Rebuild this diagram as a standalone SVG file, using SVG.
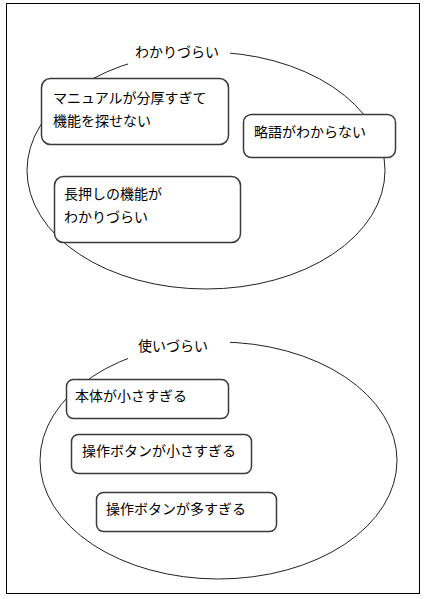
<svg xmlns="http://www.w3.org/2000/svg" width="426" height="599" viewBox="0 0 426 599">
<style>
.t{font-family:"Noto Sans CJK JP","Noto Sans CJK SC",sans-serif;font-size:14px;fill:#000}
.box{fill:#fff;stroke:#3a3a3a;stroke-width:1.5}
.grp{fill:none;stroke:#222;stroke-width:1}
.mask{fill:#fff;stroke:none}
</style>
<rect x="0" y="0" width="426" height="599" fill="#fff"/>
<rect x="6.5" y="3.5" width="413" height="590" fill="none" stroke="#000" stroke-width="1"/>
<g id="group-wakarizurai">
<ellipse class="grp" cx="206" cy="170.5" rx="179" ry="118.5"/>
<rect class="mask" x="128" y="40" width="102" height="27"/>
<text class="t" x="135" y="57">わかりづらい</text>
</g>
<g id="group-tsukaizurai">
<ellipse class="grp" cx="218.5" cy="460.5" rx="178.5" ry="118.5"/>
<rect class="mask" x="128" y="333" width="102" height="26"/>
<text class="t" x="138" y="351">使いづらい</text>
</g>
<g id="connectors"></g>
<g id="node-manual">
<rect class="box" x="41.5" y="78.5" width="187" height="66" rx="9"/>
<text class="t" x="53" y="103">マニュアルが分厚すぎて</text>
<text class="t" x="53" y="126">機能を探せない</text>
</g>
<g id="node-ryakugo">
<rect class="box" x="243.5" y="114.5" width="152" height="43" rx="8"/>
<text class="t" x="254" y="137">略語がわからない</text>
</g>
<g id="node-nagaoshi">
<rect class="box" x="54.5" y="176.5" width="186" height="66" rx="9"/>
<text class="t" x="64" y="199">長押しの機能が</text>
<text class="t" x="64" y="222">わかりづらい</text>
</g>
<g id="node-hontai">
<rect class="box" x="66.5" y="379.5" width="162" height="39" rx="7"/>
<text class="t" x="75" y="401">本体が小さすぎる</text>
</g>
<g id="node-button-small">
<rect class="box" x="71.5" y="434.5" width="180" height="39" rx="7"/>
<text class="t" x="82" y="456">操作ボタンが小さすぎる</text>
</g>
<g id="node-button-many">
<rect class="box" x="96.5" y="492.5" width="180" height="39" rx="7"/>
<text class="t" x="106" y="514">操作ボタンが多すぎる</text>
</g>
</svg>
